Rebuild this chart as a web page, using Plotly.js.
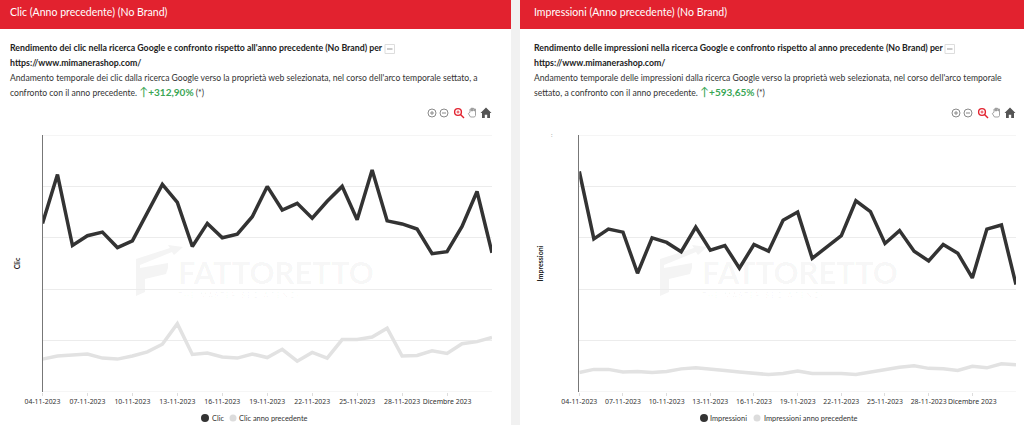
<!DOCTYPE html>
<html><head><meta charset="utf-8">
<script src="https://cdn.plot.ly/plotly-3.0.1.min.js"></script>
<style>html,body{margin:0;padding:0;background:#fff;overflow:hidden}#c{width:1024px;height:425px}</style>
</head><body><div id="c"></div>
<script>
const days = ['04-11-2023','05-11-2023','06-11-2023','07-11-2023','08-11-2023','09-11-2023','10-11-2023','11-11-2023','12-11-2023','13-11-2023','14-11-2023','15-11-2023','16-11-2023','17-11-2023','18-11-2023','19-11-2023','20-11-2023','21-11-2023','22-11-2023','23-11-2023','24-11-2023','25-11-2023','26-11-2023','27-11-2023','28-11-2023','29-11-2023','30-11-2023','01-12-2023','02-12-2023','03-12-2023','04-12-2023'];
const tickDays = ['04-11-2023','07-11-2023','10-11-2023','13-11-2023','16-11-2023','19-11-2023','22-11-2023','25-11-2023','28-11-2023','01-12-2023'];
const tickLabels = ['04-11-2023','07-11-2023','10-11-2023','13-11-2023','16-11-2023','19-11-2023','22-11-2023','25-11-2023','28-11-2023','Dicembre 2023'];
const clic = [3.28,4.23,2.85,3.04,3.11,2.81,2.94,3.48,4.04,3.69,2.83,3.28,3.0,3.07,3.41,4.0,3.54,3.67,3.38,3.71,4.0,3.35,4.32,3.33,3.27,3.17,2.69,2.73,3.22,3.9,2.71];
const clicPrev = [0.64,0.70,0.72,0.74,0.66,0.64,0.70,0.78,0.93,1.33,0.73,0.76,0.68,0.66,0.74,0.67,0.83,0.60,0.77,0.66,1.02,1.02,1.07,1.24,0.70,0.71,0.80,0.75,0.94,0.98,1.06];
const impr = [4.29,2.98,3.17,3.11,2.31,3.0,2.91,2.73,3.21,2.76,2.85,2.41,2.87,2.74,3.34,3.5,2.6,2.82,3.04,3.72,3.51,2.89,3.14,2.74,2.55,2.87,2.70,2.22,3.17,3.25,2.09];
const imprPrev = [0.38,0.44,0.44,0.39,0.40,0.38,0.40,0.45,0.47,0.45,0.42,0.39,0.36,0.34,0.36,0.41,0.36,0.36,0.36,0.34,0.39,0.44,0.48,0.51,0.46,0.45,0.42,0.50,0.47,0.55,0.53];
const gridVals = [0,1,2,3,4,5];

const W=1024,H=425,FONT='Lato, sans-serif';
const px=x=>x/W, py=y=>1-y/H;
const DARK='#333333',LIGHT='#e2e2e2',RED='#e2222f',INK='#222222',GREEN='#3aa655',MARK='rgba(0,0,0,0.045)';
const BODY=8.6,BOLD=8.78;

function line(x,y,name,color,ax){return {x,y,name,type:'scatter',mode:'lines',line:{color,width:3.5,shape:'linear'},xaxis:'x'+ax,yaxis:'y'+ax,cliponaxis:false,showlegend:false,hoverinfo:'x+y+name'};}
const data=[
  line(days,clicPrev,'Clic anno precedente',LIGHT,''),
  line(days,clic,'Clic',DARK,''),
  line(days,imprPrev,'Impressioni anno precedente',LIGHT,'2'),
  line(days,impr,'Impressioni',DARK,'2')
];
function xa(d,anchor){return {type:'category',categoryorder:'array',categoryarray:days,domain:[px(d[0]),px(d[1])],range:[0,30],anchor,tickmode:'array',tickvals:tickDays,ticktext:tickLabels,tickangle:0,ticks:'outside',ticklen:3,tickcolor:'#dddddd',showgrid:false,showline:false,zeroline:false,tickfont:{family:'"Noto Sans", sans-serif',size:6.9,color:'#333'}};}
function ya(d,anchor,t,st){return {domain:d,range:[0,5],anchor,tickmode:'array',tickvals:gridVals,showticklabels:false,ticks:'',showgrid:true,gridcolor:'#ececec',gridwidth:1,zeroline:false,showline:true,linecolor:'#777',linewidth:1,title:{text:'<b>'+t+'</b>',standoff:st,font:{family:FONT,size:7,color:'#222'}}};}
const yd=[py(392),py(135)];

function txt(x,y,text,size,color,extra){return Object.assign({xref:'paper',yref:'paper',x:px(x),y:py(y),text,showarrow:false,xanchor:'left',yanchor:'middle',align:'left',borderpad:0,font:{family:FONT,size,color}},extra||{});}
function rect(x0,y0,x1,y1,fill,extra){return Object.assign({type:'rect',xref:'paper',yref:'paper',x0:px(x0),x1:px(x1),y0:py(y0),y1:py(y1),fillcolor:fill,line:{width:0},layer:'below'},extra||{});}
function dot(cx,cy,r,fill){return {type:'circle',xref:'paper',yref:'paper',x0:px(cx-r),x1:px(cx+r),y0:py(cy+r),y1:py(cy-r),fillcolor:fill,line:{width:0},layer:'above'};}
function edgeGrid(ax,v){return {type:'line',xref:'x'+ax+' domain',yref:'y'+ax,x0:0,x1:1,y0:v,y1:v,line:{color:'#ececec',width:1},layer:'below'};}
function logo(dx){const P=(x,y)=>px(x+dx).toFixed(5)+','+py(y).toFixed(5);
  const pts=[[136,259],[170,248],[168,245],[183,247],[174,255],[172,252],[140,265],[140,268],[168,263],[168,268],[166,274],[145,279],[145,292],[136,296]];
  return {type:'path',xref:'paper',yref:'paper',path:'M'+pts.map(p=>P(p[0],p[1])).join('L')+'Z',fillcolor:'#f4f4f4',line:{width:0},layer:'below'};}
const toolbar='data:image/svg+xml;utf8,'+encodeURIComponent('<svg xmlns="http://www.w3.org/2000/svg" width="66" height="14" viewBox="0 0 66 14"><g fill="none" stroke="#8a8a8a" stroke-width="1"><circle cx="5" cy="7" r="4"/><path d="M3 7h4M5 5v4"/><circle cx="17" cy="7" r="4"/><path d="M15 7h4"/></g><g fill="none" stroke="#e2222f" stroke-width="1.4"><circle cx="31" cy="6" r="3.4"/><path d="M33.5 8.5l3.5 3.5"/></g><path d="M29.5 6h3M31 4.5v3" stroke="#e2222f" stroke-width=".8"/><path d="M43 6v-3h1v2h.5v-3h1v3h.5v-2.6h1v2.6h.5v-2h1v6.5l-1 1.5h-4l-2.2-3.5 1-.5z" fill="#fff" stroke="#999" stroke-width=".9"/><path d="M59 1.5l5.5 5.5h-1.5v5h-2.8v-3.2h-2.4v3.2h-2.8v-5h-1.5z" fill="#555"/></svg>');
const up=(pct)=>'<span style="color:'+GREEN+';font-size:12px">↑</span><span style="color:'+GREEN+';font-size:10px"><b>'+pct+'</b></span> (*)';

const layout={width:W,height:H,margin:{l:0,r:0,t:0,b:0},paper_bgcolor:'#fff',plot_bgcolor:'rgba(0,0,0,0)',showlegend:false,hovermode:'closest',
 xaxis:xa([42.5,492],'y'),yaxis:ya(yd,'x','Clic',20),
 xaxis2:xa([579.3,1016],'y2'),yaxis2:ya(yd,'x2','Impressioni',33),
 images:[
  {source:toolbar,xref:'paper',yref:'paper',x:px(427),y:py(106),sizex:66/W,sizey:14/H,sizing:'stretch',xanchor:'left',yanchor:'top',layer:'above'},
  {source:toolbar,xref:'paper',yref:'paper',x:px(951),y:py(106),sizex:66/W,sizey:14/H,sizing:'stretch',xanchor:'left',yanchor:'top',layer:'above'}],
 shapes:[
  rect(511,0,520,425,'#f1f1f1'),
  rect(0,0,511,29,RED),rect(520,0,1024,29,RED),
  logo(0),logo(524),
  edgeGrid('',gridVals[0]),edgeGrid('',gridVals[5]),edgeGrid('2',gridVals[0]),edgeGrid('2',gridVals[5]),
  rect(385,44.5,394.5,53.5,'#fff',{line:{color:'#dddddd',width:1}}),
  {type:'line',xref:'paper',yref:'paper',x0:px(387),x1:px(392.5),y0:py(49),y1:py(49),line:{color:'#999',width:1}},
  rect(945,44.5,954.5,53.5,'#fff',{line:{color:'#dddddd',width:1}}),
  {type:'line',xref:'paper',yref:'paper',x0:px(947),x1:px(952.5),y0:py(49),y1:py(49),line:{color:'#999',width:1}},
  dot(205,418,4,'#333'),dot(233,418,3.5,'#dcdcdc'),
  dot(704,418,4,'#333'),dot(757,418,3.5,'#dcdcdc')
 ],
 annotations:[
  txt(8.5,12,'Clic (Anno precedente) (No Brand)',10.55,'#fff'),
  txt(533,12,'Impressioni (Anno precedente) (No Brand)',10.55,'#fff'),
  txt(8.5,48,'<b>Rendimento dei clic nella ricerca Google e confronto rispetto all\'anno precedente (No Brand) per</b>',BOLD,INK),
  txt(8.5,62,'<b>https://www.mimanerashop.com/</b>',BOLD,INK),
  txt(8.5,77.5,'Andamento temporale dei clic dalla ricerca Google verso la proprietà web selezionata, nel corso dell\'arco temporale settato, a',BODY,'#333'),
  txt(8.5,91,'confronto con il anno precedente. '+up('+312,90%'),BODY,'#333'),
  txt(533,48,'<b>Rendimento delle impressioni nella ricerca Google e confronto rispetto al anno precedente (No Brand) per</b>',BOLD,INK),
  txt(533,62,'<b>https://www.mimanerashop.com/</b>',BOLD,INK),
  txt(533,77.5,'Andamento temporale delle impressioni dalla ricerca Google verso la proprietà web selezionata, nel corso dell\'arco temporale',BODY,'#333'),
  txt(533,91,'settato, a confronto con il anno precedente. '+up('+593,65%'),BODY,'#333'),
  txt(211,418,'Clic',7.4,'#333'),
  txt(238,418,'Clic anno precedente',7.4,'#333'),
  txt(709,418,'Impressioni',7.4,'#333'),
  txt(763,418,'Impressioni anno precedente',7.4,'#333'),
  txt(550,134,':',6,'#888'),
  txt(177,272,'<b>FATTORETTO</b>',31,MARK),
  txt(701,272,'<b>FATTORETTO</b>',31,MARK),
  txt(177,295,'T H E   M A S T E R   S E O   A G E N C Y',7,MARK),
  txt(701,295,'T H E   M A S T E R   S E O   A G E N C Y',7,MARK)
 ]};
Plotly.newPlot('c',data,layout,{displayModeBar:false,responsive:false});
</script></body></html>
